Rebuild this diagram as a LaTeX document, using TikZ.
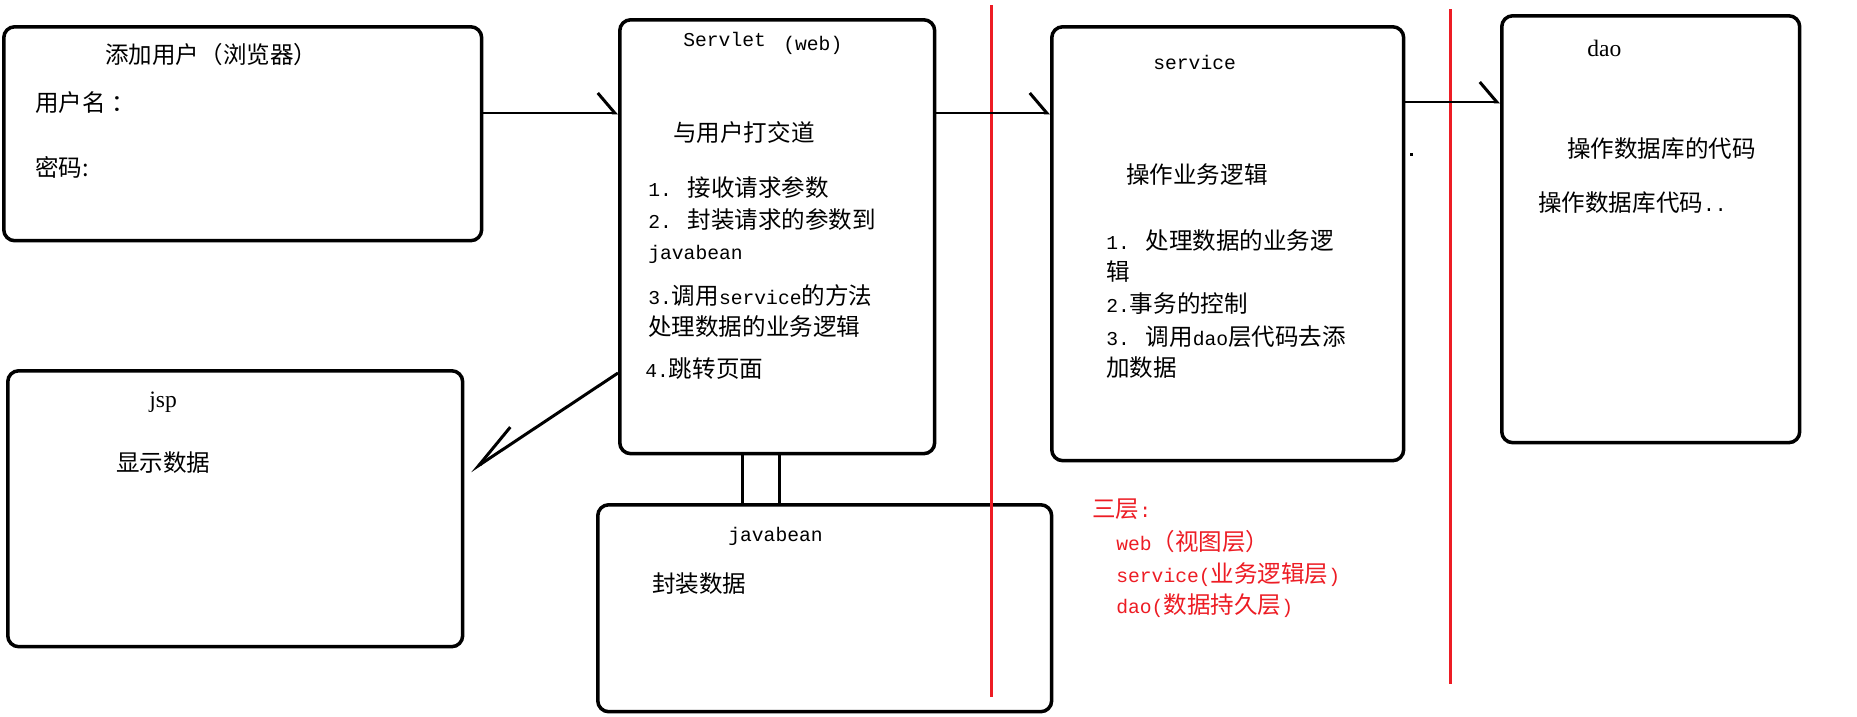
\documentclass[tikz,border=0pt]{standalone}
\usepackage{fontspec}
\setmainfont{Noto Sans CJK SC}
\newfontfamily\lat[Scale=0.835]{Liberation Mono}
\newfontfamily\latrm{Liberation Serif}
\usepackage{xcolor}
\usepackage{tikz}
\usetikzlibrary{arrows.meta}
\definecolor{layerred}{RGB}{237,28,36}

\begin{document}
\begin{tikzpicture}[x=0.02cm, y=-0.02cm,
    box/.style={draw, line width=2pt, rounded corners=0.22cm, anchor=north west, inner sep=0pt},
    txt/.style={anchor=west, inner sep=0pt, font=\fontsize{13.4}{16}\selectfont},
    link/.style={line width=1.7pt, -{Straight Barb[left,length=0.34cm,width=0.8cm]}},
    layer/.style={draw=layerred, line width=1.7pt}]
    % Canvas
    \fill[white] (0,0) rectangle (1857,717);
    \useasboundingbox (0,0) rectangle (1857,717);

    % Boxes
    \node[box, minimum width=9.56cm, minimum height=4.28cm] (user) at (2,25) {};
    \node[box, minimum width=6.3cm, minimum height=8.68cm] (servlet) at (618,18) {};
    \node[box, minimum width=7.04cm, minimum height=8.68cm] (service) at (1050,25) {};
    \node[box, minimum width=5.96cm, minimum height=8.54cm] (dao) at (1500,14) {};
    \node[box, minimum width=9.1cm, minimum height=5.52cm] (jsp) at (6,369) {};
    \node[box, minimum width=9.08cm, minimum height=4.14cm] (bean) at (596,503) {};

    % Layer borders
    \draw[layer] (991,5) -- (991,697);
    \draw[layer] (1450,9) -- (1450,684);
    \fill (1410,153) rectangle (1413,156);

    % Arrows
    \draw[link] (user.east |- 0,113) -- (servlet.west |- 0,113);
    \draw[link] (servlet.east |- 0,113) -- (service.west |- 0,113);
    \draw[link] (service.east |- 0,102) -- (dao.west |- 0,102);
    \draw[line width=1.7pt, -{Straight Barb[right,length=0.95cm,width=0.58cm]}]
        (servlet.west |- 0,373) -- ([xshift=0.12cm]jsp.east |- 0,471);
    \draw[line width=1.7pt] (servlet.south -| 742,0) -- (bean.north -| 742,0);
    \draw[line width=1.7pt] (servlet.south -| 779,0) -- (bean.north -| 779,0);

    % Browser
    \node[txt] (userTitle) at (105,55) {添加用户（浏览器）};
    \node[txt] (userName) at (35,103) {用户名\ ：};
    \node[txt] (userPwd) at (35,167) {密码:};

    % Servlet
    \node[txt] (svlTitle) at (683,39) {\lat Servlet};
    \node[txt] (svlWeb) at (783,45) {\lat (web)};
    \node[txt] (svlTalk) at (673,133) {与用户打交道};
    \node[txt] (svlOne) at (648,188) {{\lat 1. }接收请求参数};
    \node[txt] (svlTwo) at (648,220) {{\lat 2. }封装请求的参数到};
    \node[txt] (svlTwoB) at (648,254) {\lat javabean};
    \node[txt] (svlThree) at (648,296) {{\lat 3.}调用{\lat service}的方法};
    \node[txt] (svlThreeB) at (648,327) {处理数据的业务逻辑};
    \node[txt] (svlFour) at (645,369) {{\lat 4.}跳转页面};

    % Service
    \node[txt] (srvTitle) at (1153,62) {\lat service};
    \node[txt] (srvLogic) at (1126,175) {操作业务逻辑};
    \node[txt] (srvOne) at (1106,241) {{\lat 1. }处理数据的业务逻};
    \node[txt] (srvOneB) at (1106,272) {辑};
    \node[txt] (srvTwo) at (1106,304) {{\lat 2.}事务的控制};
    \node[txt] (srvThree) at (1106,337) {{\lat 3. }调用{\lat dao}层代码去添};
    \node[txt] (srvThreeB) at (1106,368) {加数据};

    % Dao
    \node[txt] (daoTitle) at (1587,48) {\latrm dao};
    \node[txt] (daoCode) at (1567,149) {操作数据库的代码};
    \node[txt] (daoMore) at (1538,203) {操作数据库代码{\lat ..}};

    % Jsp
    \node[txt] (jspTitle) at (149,402) {\latrm jsp};
    \node[txt] (jspShow) at (116,463) {显示数据};

    % Javabean
    \node[txt] (beanTitle) at (728,536) {\lat javabean};
    \node[txt] (beanWrap) at (652,584) {封装数据};

    % Three layers note
    \node[txt, layerred] (note) at (1092,509) {三层{\lat :}};
    \node[txt, layerred] (noteWeb) at (1116,542) {{\lat web}（视图层）};
    \node[txt, layerred] (noteSrv) at (1116,575) {{\lat service(}业务逻辑层{\lat )}};
    \node[txt, layerred] (noteDao) at (1116,606) {{\lat dao(}数据持久层{\lat )}};
\end{tikzpicture}
\end{document}
